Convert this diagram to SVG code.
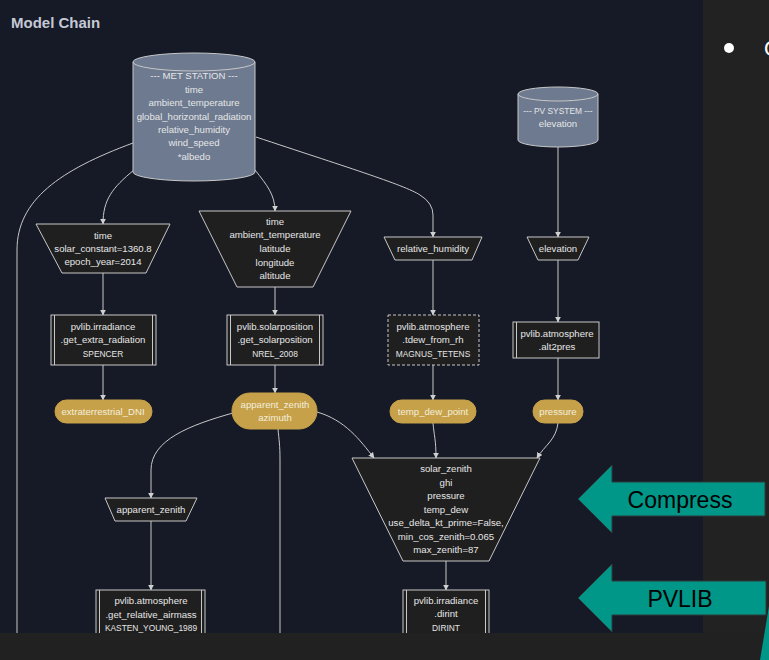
<svg xmlns="http://www.w3.org/2000/svg" width="769" height="660" viewBox="0 0 769 660">
<defs>
<style>
.t{font-family:"Liberation Sans",Arial,sans-serif;font-size:9.6px;fill:#e6e6e6;text-anchor:middle}
.u{font-size:8.4px}
.pt{font-family:"Liberation Sans",Arial,sans-serif;font-size:9.6px;fill:#f4eedc;text-anchor:middle}
.node{fill:#1f1f1f;stroke:#c8c8c8;stroke-width:1}
.cyl{fill:#6d7a90;stroke:#c8c8c8;stroke-width:1}
.pill{fill:#c6a14a;stroke:#c6a14a}
.edge{fill:none;stroke:#c8c8c8;stroke-width:1;marker-end:url(#arr)}
.plain{fill:none;stroke:#c8c8c8;stroke-width:1}
.callout{fill:#009688;stroke:#2d3a3a;stroke-width:1}
.ct{font-family:"Liberation Sans",Arial,sans-serif;font-size:23px;fill:#000;text-anchor:middle}
</style>
<marker id="arr" viewBox="0 0 10 10" refX="9" refY="5" markerWidth="6" markerHeight="6" orient="auto" markerUnits="userSpaceOnUse">
<path d="M0,0 L10,5 L0,10 z" fill="#d0d0d0"/>
</marker>
</defs>
<rect x="0" y="0" width="769" height="660" fill="#161a27"/>
<rect x="703" y="0" width="66" height="660" fill="#222222"/>
<text x="11" y="28" style="font-family:'Liberation Sans',Arial,sans-serif;font-size:15px;font-weight:bold;fill:#c5c8d6">Model Chain</text>

<g id="connectors">
<path class="plain" d="M133,143 C60,170 17,200 17,250 L17,633"/>
<path class="edge" d="M134,170 C112,188 103,200 103,224"/>
<path class="edge" d="M255,170 C267,185 275,195 275,211"/>
<path class="edge" d="M256,137 C340,165 405,185 420,195 Q433,203 433,215 L433,237"/>
<path class="edge" d="M558,146 L558,237"/>
<path class="edge" d="M103,273 L103,315"/>
<path class="edge" d="M275,287 L275,315"/>
<path class="edge" d="M433,260 L433,315"/>
<path class="edge" d="M558,260 L558,322"/>
<path class="edge" d="M103,365 L103,400"/>
<path class="edge" d="M275,365 L275,393"/>
<path class="edge" d="M433,365 L433,400"/>
<path class="edge" d="M558,358 L558,400"/>
<path class="edge" d="M233,413 C190,425 151,440 151,470 L151,498"/>
<path class="edge" d="M317,412 C345,420 360,440 374,458"/>
<path class="plain" d="M278,429 C279,440 280,445 280,460 L280,633"/>
<path class="edge" d="M433,423 C434,435 436,440 436,458"/>
<path class="edge" d="M558,423 C556,440 545,445 537,458"/>
<path class="edge" d="M446,561 L446,590"/>
<path class="edge" d="M151,521 L151,590"/>
</g>

<g id="met_station">
<path class="cyl" d="M133,62 A61,9 0 0 1 255,62 L255,172 A61,9 0 0 1 133,172 Z"/>
<path class="plain" d="M133,62 A61,9 0 0 0 255,62"/>
<text class="t" x="194" y="79">--- MET STATION ---</text>
<text class="t" x="194" y="93">time</text>
<text class="t" x="194" y="106">ambient_temperature</text>
<text class="t" x="194" y="120">global_horizontal_radiation</text>
<text class="t" x="194" y="133">relative_humidity</text>
<text class="t" x="194" y="146">wind_speed</text>
<text class="t" x="194" y="160">*albedo</text>
</g>

<g id="pv_system">
<path class="cyl" d="M518,94 A40,7 0 0 1 598,94 L598,140 A40,7 0 0 1 518,140 Z"/>
<path class="plain" d="M518,94 A40,7 0 0 0 598,94"/>
<text class="t u" x="558" y="114">--- PV SYSTEM ---</text>
<text class="t" x="558" y="127">elevation</text>
</g>

<g id="in_extra">
<polygon class="node" points="36,224 170,224 146,273 62,273"/>
<text class="t" x="103" y="239">time</text>
<text class="t" x="103" y="252">solar_constant=1360.8</text>
<text class="t" x="103" y="265">epoch_year=2014</text>
</g>

<g id="in_solpos">
<polygon class="node" points="199,211 351,211 313,287 237,287"/>
<text class="t" x="275" y="225">time</text>
<text class="t" x="275" y="238">ambient_temperature</text>
<text class="t" x="275" y="252">latitude</text>
<text class="t" x="275" y="266">longitude</text>
<text class="t" x="275" y="279">altitude</text>
</g>

<g id="in_rh">
<polygon class="node" points="384,237 482,237 472,260 395,260"/>
<text class="t" x="433" y="252">relative_humidity</text>
</g>

<g id="in_elev">
<polygon class="node" points="527,237 589,237 578,260 538,260"/>
<text class="t" x="558" y="252">elevation</text>
</g>

<g id="fn_extra">
<rect class="node" x="51" y="315" width="105" height="50"/>
<path class="plain" d="M54.5,315 V365 M152.5,315 V365"/>
<text class="t" x="103" y="330">pvlib.irradiance</text>
<text class="t" x="103" y="343">.get_extra_radiation</text>
<text class="t u" x="103" y="357">SPENCER</text>
</g>

<g id="fn_solpos">
<rect class="node" x="227" y="315" width="96" height="50"/>
<path class="plain" d="M230.5,315 V365 M319.5,315 V365"/>
<text class="t" x="275" y="330">pvlib.solarposition</text>
<text class="t" x="275" y="343">.get_solarposition</text>
<text class="t u" x="275" y="357">NREL_2008</text>
</g>

<g id="fn_tdew">
<rect class="node" x="388" y="315" width="91" height="50" stroke-dasharray="3,2"/>
<text class="t" x="433" y="330">pvlib.atmosphere</text>
<text class="t" x="433" y="343">.tdew_from_rh</text>
<text class="t u" x="433" y="357">MAGNUS_TETENS</text>
</g>

<g id="fn_alt2pres">
<rect class="node" x="513" y="322" width="86" height="36"/>
<path class="plain" d="M516.5,322 V358"/>
<text class="t" x="557" y="337">pvlib.atmosphere</text>
<text class="t" x="557" y="350">.alt2pres</text>
</g>

<g id="out_dni">
<rect class="pill" x="55" y="400" width="97" height="23" rx="11.5"/>
<text class="pt" x="103" y="415">extraterrestrial_DNI</text>
</g>

<g id="out_solpos">
<rect class="pill" x="232" y="393" width="85" height="36" rx="18"/>
<text class="pt" x="275" y="408">apparent_zenith</text>
<text class="pt" x="275" y="421">azimuth</text>
</g>

<g id="out_tdew">
<rect class="pill" x="390" y="400" width="86" height="23" rx="11.5"/>
<text class="pt" x="433" y="415">temp_dew_point</text>
</g>

<g id="out_pressure">
<rect class="pill" x="533" y="400" width="50" height="23" rx="11.5"/>
<text class="pt" x="558" y="415">pressure</text>
</g>

<g id="in_airmass">
<polygon class="node" points="105,498 197,498 186,521 115,521"/>
<text class="t" x="151" y="513">apparent_zenith</text>
</g>

<g id="in_dirint">
<polygon class="node" points="352,458 540,458 489,561 403,561"/>
<text class="t" x="446" y="472">solar_zenith</text>
<text class="t" x="446" y="486">ghi</text>
<text class="t" x="446" y="499">pressure</text>
<text class="t" x="446" y="513">temp_dew</text>
<text class="t" x="446" y="526">use_delta_kt_prime=False,</text>
<text class="t" x="446" y="540">min_cos_zenith=0.065</text>
<text class="t" x="446" y="553">max_zenith=87</text>
</g>

<g id="fn_airmass">
<rect class="node" x="96" y="590" width="109" height="60"/>
<path class="plain" d="M99.5,590 V650 M201.5,590 V650"/>
<text class="t" x="151" y="604">pvlib.atmosphere</text>
<text class="t" x="151" y="618">.get_relative_airmass</text>
<text class="t u" x="151" y="631">KASTEN_YOUNG_1989</text>
</g>

<g id="fn_dirint">
<rect class="node" x="403" y="590" width="86" height="60"/>
<path class="plain" d="M406.5,590 V650 M485.5,590 V650"/>
<text class="t" x="446" y="604">pvlib.irradiance</text>
<text class="t" x="446" y="617">.dirint</text>
<text class="t u" x="446" y="631">DIRINT</text>
</g>

<g id="callout_compress">
<polygon class="callout" points="578,499 612,465 612,482 765,482 765,516 612,516 612,533"/>
<text class="ct" x="680" y="508">Compress</text>
</g>

<g id="callout_pvlib">
<polygon class="callout" points="578,598 612,564 612,581 766,581 766,615 612,615 612,632"/>
<text class="ct" x="680" y="607">PVLIB</text>
</g>

<rect x="0" y="633" width="769" height="27" fill="#212121"/>
<polygon points="769,606 760,660 769,660" fill="#009688"/>
<circle cx="729" cy="48" r="5" fill="#ffffff"/>
<text x="764" y="56" style="font-family:'Liberation Sans',Arial,sans-serif;font-size:22px;fill:#ffffff">O</text>
</svg>
